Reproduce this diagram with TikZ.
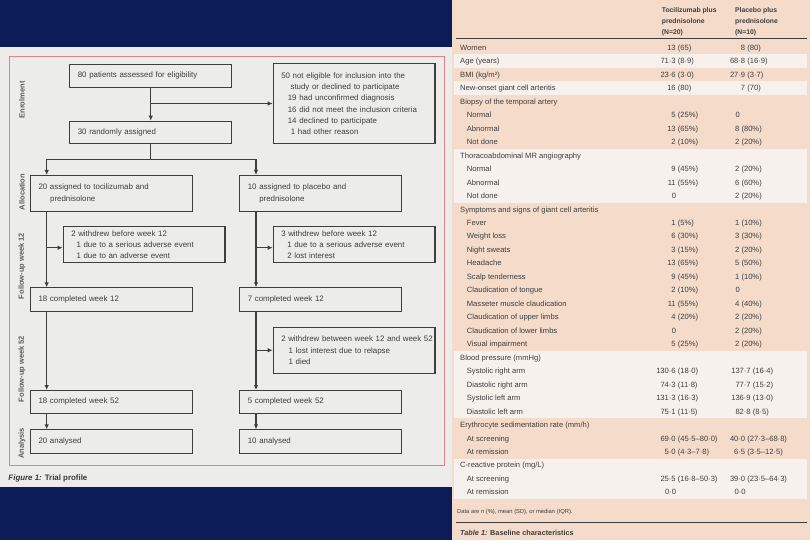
\documentclass[tikz,border=0pt]{standalone}
\usepackage{fontspec}
\setmainfont{Liberation Sans}
\usetikzlibrary{arrows.meta,positioning}

\definecolor{navy}{RGB}{12,28,88}
\definecolor{paper}{RGB}{236,236,234}
\definecolor{framered}{RGB}{226,132,132}
\definecolor{salmon}{RGB}{244,219,202}
\definecolor{band}{RGB}{246,241,237}
\definecolor{ink}{RGB}{62,62,62}

\newcommand{\flowfont}{\fontsize{7.9}{11.3}\selectfont}
\newcommand{\cellfont}{\fontsize{7.6}{9}\selectfont}
\newcommand{\headfont}{\fontsize{6.8}{10.7}\selectfont\bfseries}
\newcommand{\stagefont}{\fontsize{7.5}{9}\selectfont\bfseries}

\tikzset{
  box/.style={draw=ink, line width=1.1pt, anchor=north west, inner xsep=8pt, inner ysep=0pt,
    minimum width=161.7pt, text width=145.7pt, align=left, font=\flowfont, text=ink},
  link/.style={draw=ink, line width=1.1pt},
  arr/.style={link, -{Latex[length=5pt,width=4.5pt]}},
  stage/.style={rotate=90, font=\stagefont, text=ink!85},
  cell/.style={anchor=base west, inner sep=0pt, font=\cellfont, text=ink},
  rule/.style={draw=ink, line width=1pt},
}

% one table row: number, label x, label, tocilizumab value, placebo x, placebo value
\newcommand{\trow}[8]{%
  \node[cell] (lab#1) at (#2,{50.4+13.47*#1}) {#3};
  \node[cell] (toc#1) at (675.5,{50.4+13.47*#1}) {\llap{#4}\ #5};
  \node[cell] (pla#1) at (#6,{50.4+13.47*#1}) {\llap{#7}\ #8};}
% one group heading of the table
\newcommand{\tgroup}[2]{%
  \node[cell] (lab#1) at (460,{50.4+13.47*#1}) {#2};}

\begin{document}
\begin{tikzpicture}[x=1pt,y=-1pt]
  \useasboundingbox (0,0) rectangle (810,540);

  % Background, page of the figure and page of the table
  \fill[navy] (0,0) rectangle (810,540);
  \fill[paper] (0,46.7) rectangle (451.5,486.7);
  \draw[framered, line width=0.8pt] (9.3,56) rectangle (444,465);
  \fill[salmon] (452,0) rectangle (810,540);

  % Stages of the trial
  \node[stage] (enrol) at (22,100) {Enrolment};
  \node[stage] (alloc) at (22,192) {Allocation};
  \node[stage] (fup12) at (22,266) {Follow-up week 12};
  \node[stage] (fup52) at (22,369) {Follow-up week 52};
  \node[stage] (anal) at (22,443.5) {Analysis};

  % Boxes of the trial profile
  \node[box, minimum height=22.7pt] (p80) at (69.3,64) {80 patients assessed for eligibility};
  \node[box, minimum height=79.4pt] (excl) at (272.7,63.3)
    {50 not eligible for inclusion into the\\\hspace*{9.3pt}study or declined to participate\\
     \hspace*{6.6pt}19 had unconfirmed diagnosis\\\hspace*{6.6pt}16 did not meet the inclusion criteria\\
     \hspace*{6.6pt}14 declined to participate\\\hspace*{9.6pt}1 had other reason};
  \node[box, minimum height=22.7pt] (r30) at (69.3,120.7) {30 randomly assigned};
  \node[box, minimum height=35.7pt] (toci) at (30,175)
    {20 assigned to tocilizumab and\\\hspace*{11.6pt}prednisolone};
  \node[box, minimum height=35.7pt] (plac) at (239.3,175)
    {10 assigned to placebo and\\\hspace*{11.4pt}prednisolone};
  \node[box, minimum height=36.3pt] (w12a) at (62.7,226)
    {2 withdrew before week 12\\\hspace*{5.3pt}1 due to a serious adverse event\\\hspace*{5.3pt}1 due to an adverse event};
  \node[box, minimum height=36.3pt] (w12b) at (272.7,226)
    {3 withdrew before week 12\\\hspace*{6pt}1 due to a serious adverse event\\\hspace*{6pt}2 lost interest};
  \node[box, minimum height=23.7pt] (c12a) at (30,287.3) {18 completed week 12};
  \node[box, minimum height=23.7pt] (c12b) at (239.3,287.3) {7 completed week 12};
  \node[box, minimum height=46pt] (w52) at (272.7,326.7)
    {\mbox{2 withdrew between week 12 and week 52}\\\hspace*{7.4pt}1 lost interest due to relapse\\\hspace*{7.4pt}1 died};
  \node[box, minimum height=22.7pt] (c52a) at (30,390) {18 completed week 52};
  \node[box, minimum height=22.7pt] (c52b) at (239.3,390) {5 completed week 52};
  \node[box, minimum height=24pt] (an20) at (30,429.3) {20 analysed};
  \node[box, minimum height=24pt] (an10) at (239.3,429.3) {10 analysed};

  % Connectors
  \draw[arr] (p80) -- (r30);
  \draw[arr] (p80.south |- excl.west) -- (excl.west);
  \draw[link] (r30.south) -- ++(0,15) coordinate (fork);
  \coordinate (ltrunk) at ([xshift=16.7pt]toci.south west);
  \coordinate (rtrunk) at ([xshift=16.7pt]plac.south west);
  \draw[arr] (fork) -| (ltrunk |- toci.north);
  \draw[arr] (fork) -| (rtrunk |- plac.north);
  \draw[arr] (ltrunk) -- (ltrunk |- c12a.north);
  \draw[arr] (rtrunk) -- (rtrunk |- c12b.north);
  \draw[arr] ([yshift=-3pt]ltrunk |- w12a.west) -- ([yshift=-3pt]w12a.west);
  \draw[arr] ([yshift=-3pt]rtrunk |- w12b.west) -- ([yshift=-3pt]w12b.west);
  \draw[arr] (ltrunk |- c12a.south) -- (ltrunk |- c52a.north);
  \draw[arr] (rtrunk |- c12b.south) -- (rtrunk |- c52b.north);
  \draw[arr] (rtrunk |- w52.west) -- (w52.west);
  \draw[arr] (ltrunk |- c52a.south) -- (ltrunk |- an20.north);
  \draw[arr] (rtrunk |- c52b.south) -- (rtrunk |- an10.north);

  \node[anchor=base west, inner sep=0pt, font=\fontsize{7.9}{9}\selectfont\bfseries, text=ink!90!black]
    (fcap) at (8.3,480.5) {\textit{Figure 1:} Trial profile};

  % Table: light bands of the rows
  \foreach \a/\b in {1/1,3/3,8/11,23/27,31/33}
    \fill[band] (454,{40.97+13.47*\a}) rectangle (807,{54.43+13.47*\b});

  % Table heading
  \node[anchor=north west, inner sep=0pt, align=left, font=\headfont, text=ink] (htoc) at (661.7,7.5)
    {Tocilizumab plus\\prednisolone\\(N=20)};
  \node[anchor=north west, inner sep=0pt, align=left, font=\headfont, text=ink] (hpla) at (735,7.5)
    {Placebo plus\\prednisolone\\(N=10)};
  \draw[rule] (456,39) -- (807,39);

  % Table body
  \trow{0}{460}{Women}{13}{(65)}{745}{8}{(80)}
  \trow{1}{460}{Age (years)}{71·3}{(8·9)}{745}{68·8}{(16·9)}
  \trow{2}{460}{BMI (kg/m²)}{23·6}{(3·0)}{745}{27·9}{(3·7)}
  \trow{3}{460}{New-onset giant cell arteritis}{16}{(80)}{745}{7}{(70)}
  \tgroup{4}{Biopsy of the temporal artery}
  \trow{5}{466.7}{Normal}{5}{(25\%)}{739.2}{0}{}
  \trow{6}{466.7}{Abnormal}{13}{(65\%)}{739.2}{8}{(80\%)}
  \trow{7}{466.7}{Not done}{2}{(10\%)}{739.2}{2}{(20\%)}
  \tgroup{8}{Thoracoabdominal MR angiography}
  \trow{9}{466.7}{Normal}{9}{(45\%)}{739.2}{2}{(20\%)}
  \trow{10}{466.7}{Abnormal}{11}{(55\%)}{739.2}{6}{(60\%)}
  \trow{11}{466.7}{Not done}{0}{}{739.2}{2}{(20\%)}
  \tgroup{12}{Symptoms and signs of giant cell arteritis}
  \trow{13}{466.7}{Fever}{1}{(5\%)}{739.2}{1}{(10\%)}
  \trow{14}{466.7}{Weight loss}{6}{(30\%)}{739.2}{3}{(30\%)}
  \trow{15}{466.7}{Night sweats}{3}{(15\%)}{739.2}{2}{(20\%)}
  \trow{16}{466.7}{Headache}{13}{(65\%)}{739.2}{5}{(50\%)}
  \trow{17}{466.7}{Scalp tenderness}{9}{(45\%)}{739.2}{1}{(10\%)}
  \trow{18}{466.7}{Claudication of tongue}{2}{(10\%)}{739.2}{0}{}
  \trow{19}{466.7}{Masseter muscle claudication}{11}{(55\%)}{739.2}{4}{(40\%)}
  \trow{20}{466.7}{Claudication of upper limbs}{4}{(20\%)}{739.2}{2}{(20\%)}
  \trow{21}{466.7}{Claudication of lower limbs}{0}{}{739.2}{2}{(20\%)}
  \trow{22}{466.7}{Visual impairment}{5}{(25\%)}{739.2}{2}{(20\%)}
  \tgroup{23}{Blood pressure (mmHg)}
  \trow{24}{466.7}{Systolic right arm}{130·6}{(18·0)}{750.5}{137·7}{(16·4)}
  \trow{25}{466.7}{Diastolic right arm}{74·3}{(11·8)}{750.5}{77·7}{(15·2)}
  \trow{26}{466.7}{Systolic left arm}{131·3}{(16·3)}{750.5}{136·9}{(13·0)}
  \trow{27}{466.7}{Diastolic left arm}{75·1}{(11·5)}{750.5}{82·8}{(8·5)}
  \tgroup{28}{Erythrocyte sedimentation rate (mm/h)}
  \trow{29}{466.7}{At screening}{69·0}{(45·5–80·0)}{745}{40·0}{(27·3–68·8)}
  \trow{30}{466.7}{At remission}{5·0}{(4·3–7·8)}{745}{6·5}{(3·5–12·5)}
  \tgroup{31}{C-reactive protein (mg/L)}
  \trow{32}{466.7}{At screening}{25·5}{(16·8–50·3)}{745}{39·0}{(23·5–64·3)}
  \trow{33}{466.7}{At remission}{0·0}{}{745}{0·0}{}

  % Foot of the table
  \node[anchor=base west, inner sep=0pt, font=\fontsize{5.8}{7}\selectfont, text=ink] (note) at (457,513.8)
    {Data are n (\%), mean (SD), or median (IQR).};
  \draw[rule] (456,522.7) -- (807,522.7);
  \node[anchor=base west, inner sep=0pt, font=\fontsize{7.3}{9}\selectfont\bfseries, text=ink] (tcap) at (460,535.3)
    {\textit{Table 1:} Baseline characteristics};
\end{tikzpicture}
\end{document}
